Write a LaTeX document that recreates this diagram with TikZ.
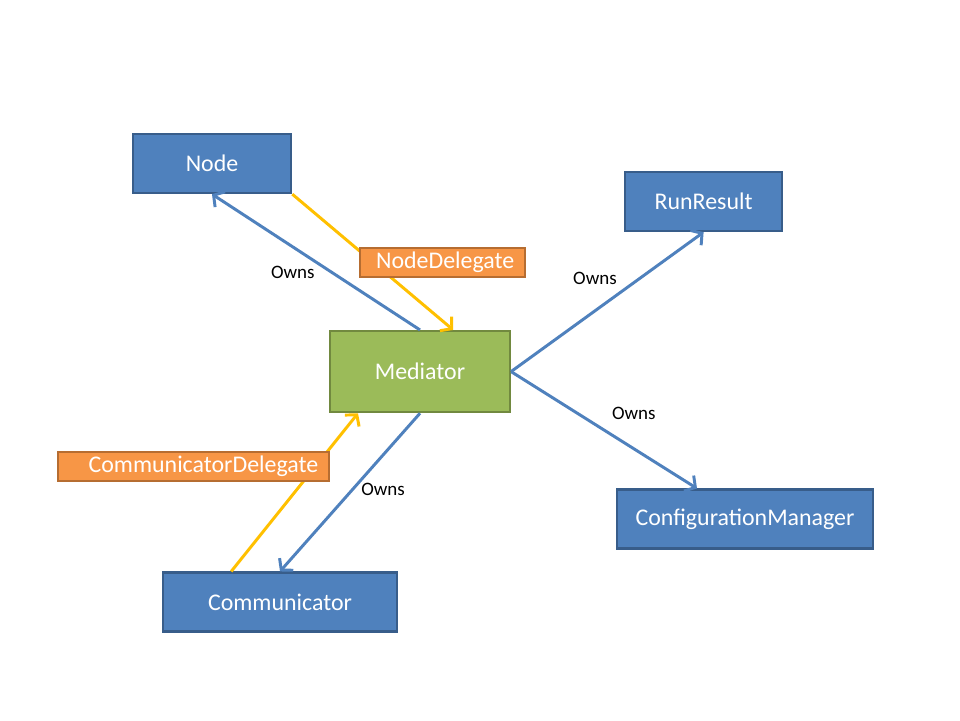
\documentclass[tikz,border=0pt]{standalone}
\usepackage{fontspec}
\setmainfont{Carlito}
\usetikzlibrary{arrows.meta, calc}

\definecolor{clsblue}{HTML}{4F81BD}
\definecolor{clsborder}{HTML}{385D8A}
\definecolor{medgreen}{HTML}{9BBB59}
\definecolor{medborder}{HTML}{71893F}
\definecolor{dlgorange}{HTML}{F79646}
\definecolor{dlgborder}{HTML}{B66D31}
\definecolor{dlgyellow}{HTML}{FFC000}

\tikzset{
	cls/.style={draw=clsborder, fill=clsblue, line width=1.5pt, text=white,
		font=\fontsize{17}{20}\selectfont, minimum height=1.475cm, inner sep=0pt},
	hub/.style={cls, draw=medborder, fill=medgreen, minimum width=4.5cm, minimum height=2.03cm},
	dlg/.style={cls, draw=dlgborder, fill=dlgorange, minimum height=0.74cm},
	owns/.style={draw=clsblue, line width=2.1pt, -{Straight Barb[length=5.5pt,width=13pt,line width=2.1pt]}},
	dlgline/.style={draw=dlgyellow, line width=2.1pt, -{Straight Barb[length=5.5pt,width=13pt,line width=2.1pt]}},
	lbl/.style={font=\fontsize{13.5}{16}\selectfont, text=black, inner sep=2pt}
}

\begin{document}
\begin{tikzpicture}
	\path[fill=white, use as bounding box] (0,0) rectangle (24,18);

	\node[cls, minimum width=3.96cm] (node) at (5.3,13.91) {Node};
	\node[cls, minimum width=3.94cm] (run) at (17.59,12.96) {RunResult};
	\node[hub] (med) at (10.5,8.71) {Mediator};
	\node[cls, minimum width=6.41cm] (cfg) at (18.625,5.025) {ConfigurationManager};
	\node[cls, minimum width=5.86cm] (comm) at (7.0,2.95) {Communicator};

	\draw[owns] (med.north) -- node[lbl, pos=0.5, below left, xshift=2pt] {Owns} (node.south);
	\draw[dlgline] (node.south east) -- ([xshift=0.83cm]med.north);
	\draw[owns] (med.east) -- node[lbl, pos=0.52, above left, xshift=7pt, yshift=7pt] {Owns} (run.south);
	\draw[owns] (med.east) -- node[lbl, pos=0.52, above right, yshift=6pt] {Owns} ([xshift=-1.2cm]cfg.north);
	\draw[owns] (med.south) -- node[lbl, pos=0.48, right, xshift=3pt] {Owns} (comm.north);
	\draw[dlgline] ([xshift=-1.22cm]comm.north) -- ([xshift=-1.55cm]med.south);

	\node[dlg, minimum width=4.14cm] (nodedlg) at (11.06,11.44) {\hspace{4pt}NodeDelegate};
	\node[dlg, minimum width=6.79cm] (commdlg) at (4.84,6.34) {\hspace{14pt}CommunicatorDelegate};
\end{tikzpicture}
\end{document}
